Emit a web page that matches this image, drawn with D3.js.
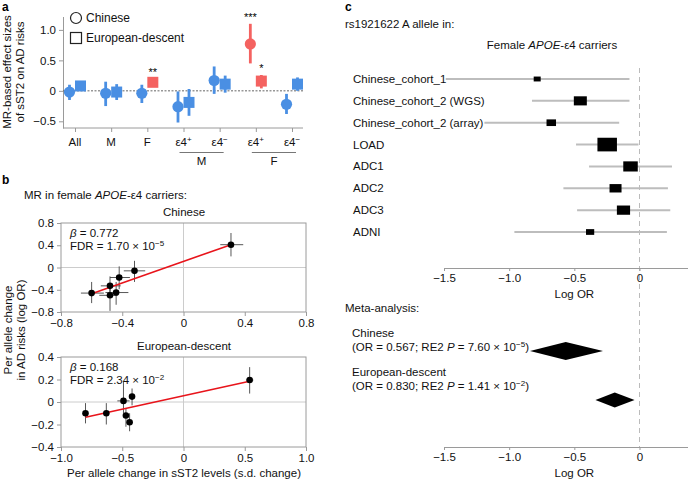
<!DOCTYPE html>
<html><head><meta charset="utf-8">
<script src="https://cdn.jsdelivr.net/npm/d3@7"></script>
<style>body{margin:0;background:#fff} svg{font-family:"Liberation Sans",Arial,sans-serif}</style>
</head><body><svg id="c" width="688" height="482"></svg>
<script>
// ---------- Panel a data ----------
const groupsA = ["All","M","F","e4+M","e4-M","e4+F","e4-F"];
const groupTickMain = ["All","M","F","ε4","ε4","ε4","ε4"];
const groupTickSup = ["","","","+","−","+","−"];
const chineseEst = [-0.02,-0.04,-0.04,-0.26,0.17,0.77,-0.22];
const chineseLo  = [-0.15,-0.25,-0.20,-0.52,-0.05,0.45,-0.38];
const chineseHi  = [0.10,0.15,0.10,-0.01,0.40,1.10,-0.05];
const chineseSig = ["","","","","","***",""];
const euroEst = [0.08,-0.02,0.14,-0.19,0.11,0.16,0.11];
const euroLo  = [0.00,-0.15,0.10,-0.41,-0.03,0.04,0.00];
const euroHi  = [0.15,0.11,0.19,0.03,0.25,0.26,0.22];
const euroSig = ["","","**","","","*",""];
const yTicksA = [-0.5,0,0.5,1.0];

// ---------- Panel b data ----------
const chnX   = [0.31,-0.32,-0.42,-0.48,-0.60,-0.48,-0.44];
const chnXlo = [0.24,-0.39,-0.48,-0.54,-0.67,-0.55,-0.51];
const chnXhi = [0.39,-0.25,-0.35,-0.41,-0.52,-0.43,-0.36];
const chnY   = [0.41,-0.06,-0.18,-0.33,-0.46,-0.50,-0.45];
const chnYlo = [0.20,-0.26,-0.39,-0.52,-0.64,-0.78,-0.67];
const chnYhi = [0.62,0.12,0.02,-0.16,-0.26,-0.34,-0.26];
const chnFitX = [-0.60,0.31];
const chnFitY = [-0.47,0.41];
const eurX   = [0.54,-0.42,-0.49,-0.47,-0.44,-0.63,-0.80];
const eurXlo = [0.51,-0.44,-0.54,-0.49,-0.46,-0.65,-0.82];
const eurXhi = [0.57,-0.40,-0.44,-0.45,-0.42,-0.61,-0.78];
const eurY   = [0.195,0.048,0.01,-0.12,-0.18,-0.10,-0.10];
const eurYlo = [0.075,-0.03,-0.10,-0.22,-0.26,-0.20,-0.19];
const eurYhi = [0.31,0.12,0.18,-0.06,-0.10,-0.01,-0.01];
const eurFitX = [-0.80,0.54];
const eurFitY = [-0.135,0.185];
const ticksBtopX = [-0.8,-0.4,0,0.4,0.8];
const ticksBtopY = [-0.8,-0.4,0,0.4,0.8];
const ticksBbotX = [-1.0,-0.5,0,0.5,1.0];
const ticksBbotY = [-0.4,-0.2,0,0.2,0.4];

// ---------- Panel c data ----------
const studies = ["Chinese_cohort_1","Chinese_cohort_2 (WGS)","Chinese_cohort_2 (array)","LOAD","ADC1","ADC2","ADC3","ADNI"];
const studyEst = [-0.785,-0.454,-0.677,-0.248,-0.069,-0.184,-0.123,-0.379];
const studyLo  = [-1.487,-0.825,-1.19,-0.487,-0.387,-0.584,-0.479,-0.96];
const studyHi  = [-0.077,-0.077,-0.156,-0.008,0.249,0.218,0.236,0.21];
const studyWeight = [0.7,1.3,0.95,1.95,1.45,1.2,1.32,0.82];
const metaNames = ["Chinese","European-descent"];
const metaEst = [-0.566,-0.19];
const metaLo = [-0.84,-0.338];
const metaHi = [-0.28,-0.038];
const ticksC = [-1.5,-1.0,-0.5,0];

const BLUE = "#4a8fe3", RED = "#f46260", AX = "#9a9a9a";
const svg = d3.select("#c");
const fmt1 = d => d === 0 ? "0" : d3.format(".1f")(d);

function supText(g, x, y, parts, opts = {}) {
  const t = g.append("text").attr("x", x).attr("y", y)
    .attr("font-size", opts.size || 11).attr("text-anchor", opts.anchor || "start").attr("fill", "#111");
  parts.forEach(p => {
    const s = t.append("tspan").text(p.t);
    if (p.i) s.attr("font-style", "italic");
    if (p.sup) s.attr("baseline-shift", "super").attr("font-size", (opts.size || 11) * 0.7);
  });
  return t;
}

// ============ Panel a ============
const ga = svg.append("g");
ga.append("text").attr("x", 2).attr("y", 11).attr("font-weight", "bold").attr("font-size", 12).text("a");
const xA = d3.scalePoint().domain(groupsA).range([75, 292]);
const yA = d3.scaleLinear().domain([-0.61, 1.22]).range([128, 16.5]);
ga.append("g").attr("transform", "translate(63,0)")
  .call(d3.axisLeft(yA).tickValues(yTicksA).tickFormat(fmt1).tickSize(4).tickSizeOuter(0))
  .call(g => { g.select(".domain").attr("stroke", AX); g.selectAll(".tick line").attr("stroke", AX);
    g.selectAll("text").attr("font-size", 11.5).attr("fill", "#111").attr("font-family", "Liberation Sans, Arial"); });
ga.append("g").attr("transform", "translate(0,128)")
  .call(d3.axisBottom(xA).tickSize(4).tickSizeOuter(0).tickFormat(""))
  .call(g => { g.select(".domain").attr("stroke", AX).attr("d", "M63,0H303"); g.selectAll(".tick line").attr("stroke", AX); });
groupsA.forEach((gname, i) => {
  const t = ga.append("text").attr("x", xA(gname)).attr("y", 146).attr("text-anchor", "middle")
    .attr("font-size", 11.5).attr("fill", "#111");
  t.append("tspan").text(groupTickMain[i]);
  if (groupTickSup[i]) t.append("tspan").attr("baseline-shift", "super").attr("font-size", 8).text(groupTickSup[i]);
});
[["M", "e4+M", "e4-M"], ["F", "e4+F", "e4-F"]].forEach(([lab, a, b]) => {
  ga.append("line").attr("x1", xA(a) - 4).attr("x2", xA(b) + 4).attr("y1", 152.5).attr("y2", 152.5).attr("stroke", "#777");
  ga.append("text").attr("x", (xA(a) + xA(b)) / 2).attr("y", 165).attr("text-anchor", "middle").attr("font-size", 11.5).attr("fill", "#111").text(lab);
});
ga.append("line").attr("x1", 63).attr("x2", 303).attr("y1", yA(0)).attr("y2", yA(0))
  .attr("stroke", "#666").attr("stroke-dasharray", "2,1.5");
ga.append("text").attr("transform", "translate(11,72) rotate(-90)").attr("text-anchor", "middle").attr("font-size", 11.5).attr("fill", "#111").text("MR-based effect sizes");
ga.append("text").attr("transform", "translate(24,72) rotate(-90)").attr("text-anchor", "middle").attr("font-size", 11.5).attr("fill", "#111").text("of sST2 on AD risks");
// legend
ga.append("circle").attr("cx", 76).attr("cy", 18).attr("r", 5.5).attr("fill", "none").attr("stroke", "#222").attr("stroke-width", 1.2);
ga.append("rect").attr("x", 70.5).attr("y", 32.5).attr("width", 11).attr("height", 11).attr("fill", "none").attr("stroke", "#222").attr("stroke-width", 1.2);
ga.append("text").attr("x", 86).attr("y", 22).attr("font-size", 12).attr("fill", "#111").text("Chinese");
ga.append("text").attr("x", 86).attr("y", 42).attr("font-size", 12).attr("fill", "#111").text("European-descent");
// marks
groupsA.forEach((gname, i) => {
  const cx = xA(gname) - 5.5, sx = xA(gname) + 5.5;
  const cc = chineseSig[i] ? RED : BLUE, sc = euroSig[i] ? RED : BLUE;
  ga.append("line").attr("x1", cx).attr("x2", cx).attr("y1", yA(chineseLo[i])).attr("y2", yA(chineseHi[i])).attr("stroke", cc).attr("stroke-width", 2.8);
  ga.append("circle").attr("cx", cx).attr("cy", yA(chineseEst[i])).attr("r", 5.6).attr("fill", cc);
  ga.append("line").attr("x1", sx).attr("x2", sx).attr("y1", yA(euroLo[i])).attr("y2", yA(euroHi[i])).attr("stroke", sc).attr("stroke-width", 2.8);
  ga.append("rect").attr("x", sx - 5.5).attr("y", yA(euroEst[i]) - 5.5).attr("width", 11).attr("height", 11).attr("fill", sc);
  if (chineseSig[i]) ga.append("text").attr("x", cx).attr("y", yA(chineseHi[i]) - 3).attr("text-anchor", "middle").attr("font-size", 11).text(chineseSig[i]);
  if (euroSig[i]) ga.append("text").attr("x", sx).attr("y", yA(euroHi[i]) - 3).attr("text-anchor", "middle").attr("font-size", 11).text(euroSig[i]);
});

// ============ Panel b ============
const gb = svg.append("g");
gb.append("text").attr("x", 2).attr("y", 184).attr("font-weight", "bold").attr("font-size", 12).text("b");
supText(gb, 24, 199, [{t: "MR in female "}, {t: "APOE", i: 1}, {t: "-ε4 carriers:"}], {size: 11.5});
gb.append("text").attr("transform", "translate(12,330) rotate(-90)").attr("text-anchor", "middle").attr("font-size", 11.5).attr("fill", "#111").text("Per allele change");
gb.append("text").attr("transform", "translate(25,330) rotate(-90)").attr("text-anchor", "middle").attr("font-size", 11.5).attr("fill", "#111").text("in AD risks (log OR)");

function scatterPanel(cfg) {
  const g = gb.append("g");
  const x = d3.scaleLinear().domain(cfg.xd).range([61, 306]);
  const y = d3.scaleLinear().domain(cfg.yd).range([cfg.y1, cfg.y0]);
  g.append("text").attr("x", 184).attr("y", cfg.y0 - 7).attr("text-anchor", "middle").attr("font-size", 11.5).attr("fill", "#111").text(cfg.title);
  g.append("line").attr("x1", x(0)).attr("x2", x(0)).attr("y1", cfg.y0).attr("y2", cfg.y1).attr("stroke", "#ccc");
  g.append("line").attr("x1", 61).attr("x2", 306).attr("y1", y(0)).attr("y2", y(0)).attr("stroke", "#ccc");
  g.append("rect").attr("x", 61).attr("y", cfg.y0).attr("width", 245).attr("height", cfg.y1 - cfg.y0).attr("fill", "none").attr("stroke", AX);
  g.append("g").attr("transform", `translate(61,0)`).call(d3.axisLeft(y).tickValues(cfg.ty).tickFormat(fmt1).tickSize(4).tickSizeOuter(0))
    .call(a => { a.select(".domain").remove(); a.selectAll(".tick line").attr("stroke", AX); a.selectAll("text").attr("font-size", 11.5).attr("fill", "#111").attr("font-family", "Liberation Sans, Arial"); });
  g.append("g").attr("transform", `translate(0,${cfg.y1})`).call(d3.axisBottom(x).tickValues(cfg.tx).tickFormat(fmt1).tickSize(4).tickSizeOuter(0))
    .call(a => { a.select(".domain").remove(); a.selectAll(".tick line").attr("stroke", AX); a.selectAll("text").attr("font-size", 11.5).attr("fill", "#111").attr("font-family", "Liberation Sans, Arial"); });
  cfg.X.forEach((xv, i) => {
    g.append("line").attr("x1", x(cfg.Xlo[i])).attr("x2", x(cfg.Xhi[i])).attr("y1", y(cfg.Y[i])).attr("y2", y(cfg.Y[i])).attr("stroke", "#444").attr("stroke-width", 0.9);
    g.append("line").attr("x1", x(xv)).attr("x2", x(xv)).attr("y1", y(cfg.Ylo[i])).attr("y2", y(cfg.Yhi[i])).attr("stroke", "#444").attr("stroke-width", 0.9);
  });
  g.append("line").attr("x1", x(cfg.fx[0])).attr("x2", x(cfg.fx[1])).attr("y1", y(cfg.fy[0])).attr("y2", y(cfg.fy[1])).attr("stroke", "#e8141b").attr("stroke-width", 1.6);
  cfg.X.forEach((xv, i) => g.append("circle").attr("cx", x(xv)).attr("cy", y(cfg.Y[i])).attr("r", 3.3).attr("fill", "#000"));
  supText(g, 70, cfg.y0 + 14, [{t: "β", i: 1}, {t: " = " + cfg.beta}], {size: 11.5});
  supText(g, 70, cfg.y0 + 27, [{t: "FDR = " + cfg.fdr + " × 10"}, {t: cfg.exp, sup: 1}], {size: 11.5});
}
scatterPanel({title: "Chinese", xd: [-0.8, 0.8], yd: [-0.8, 0.8], y0: 223, y1: 312, tx: ticksBtopX, ty: ticksBtopY,
  X: chnX, Xlo: chnXlo, Xhi: chnXhi, Y: chnY, Ylo: chnYlo, Yhi: chnYhi, fx: chnFitX, fy: chnFitY, beta: "0.772", fdr: "1.70", exp: "−5"});
scatterPanel({title: "European-descent", xd: [-1, 1], yd: [-0.4, 0.4], y0: 357, y1: 447, tx: ticksBbotX, ty: ticksBbotY,
  X: eurX, Xlo: eurXlo, Xhi: eurXhi, Y: eurY, Ylo: eurYlo, Yhi: eurYhi, fx: eurFitX, fy: eurFitY, beta: "0.168", fdr: "2.34", exp: "−2"});
gb.append("text").attr("x", 184).attr("y", 477).attr("text-anchor", "middle").attr("font-size", 11.5).attr("fill", "#111").text("Per allele change in sST2 levels (s.d. change)");

// ============ Panel c ============
const gc = svg.append("g");
gc.append("text").attr("x", 345).attr("y", 11).attr("font-weight", "bold").attr("font-size", 12).text("c");
gc.append("text").attr("x", 345).attr("y", 28).attr("font-size", 11.5).attr("fill", "#111").text("rs1921622 A allele in:");
supText(gc, 552, 49, [{t: "Female "}, {t: "APOE", i: 1}, {t: "-ε4 carriers"}], {size: 11.5, anchor: "middle"});
const xC = d3.scaleLinear().domain([-1.5, 0.372]).range([444, 688]);
const yC = d3.scalePoint().domain(studies).range([79, 232]);
gc.append("line").attr("x1", xC(0)).attr("x2", xC(0)).attr("y1", 68).attr("y2", 447).attr("stroke", "#bbb").attr("stroke-dasharray", "5,4");
studies.forEach((s, i) => {
  const yy = yC(s);
  gc.append("text").attr("x", 353).attr("y", yy + 4).attr("font-size", 11.5).attr("fill", "#111").text(s);
  gc.append("line").attr("x1", xC(studyLo[i])).attr("x2", xC(studyHi[i])).attr("y1", yy).attr("y2", yy).attr("stroke", "#bdbdbd").attr("stroke-width", 2);
  const w = studyWeight[i] * 10, h = w * 0.7;
  gc.append("rect").attr("x", xC(studyEst[i]) - w / 2).attr("y", yy - h / 2).attr("width", w).attr("height", h).attr("fill", "#000");
});
function axisC(yPos) {
  gc.append("g").attr("transform", `translate(0,${yPos})`).call(d3.axisBottom(xC).tickValues(ticksC).tickFormat(fmt1).tickSize(3).tickSizeOuter(0))
    .call(a => { a.select(".domain").attr("stroke", AX); a.selectAll(".tick line").attr("stroke", AX); a.selectAll("text").attr("font-size", 11.5).attr("fill", "#111").attr("font-family", "Liberation Sans, Arial"); });
  gc.append("text").attr("x", xC(-0.5)).attr("y", yPos + 30).attr("text-anchor", "middle").attr("font-size", 11.5).attr("fill", "#111").text("Log OR");
}
axisC(268);
axisC(447);
gc.append("text").attr("x", 345).attr("y", 312).attr("font-size", 11.5).attr("fill", "#111").text("Meta-analysis:");
const metaY = [351, 400];
const metaTextY = [[337, 351], [376, 390]];
const metaStats = [["0.567", "7.60", "−5"], ["0.830", "1.41", "−2"]];
const metaHalfH = [9, 7.5];
metaNames.forEach((m, i) => {
  gc.append("text").attr("x", 352).attr("y", metaTextY[i][0]).attr("font-size", 11.5).attr("fill", "#111").text(m);
  supText(gc, 352, metaTextY[i][1], [{t: "(OR = " + metaStats[i][0] + "; RE2 "}, {t: "P", i: 1}, {t: " = " + metaStats[i][1] + " × 10"}, {t: metaStats[i][2], sup: 1}, {t: ")"}], {size: 11.5});
  const yy = metaY[i], hh = metaHalfH[i];
  gc.append("path").attr("d", `M${xC(metaLo[i])},${yy}L${xC(metaEst[i])},${yy - hh}L${xC(metaHi[i])},${yy}L${xC(metaEst[i])},${yy + hh}Z`).attr("fill", "#000");
});
</script></body></html>
